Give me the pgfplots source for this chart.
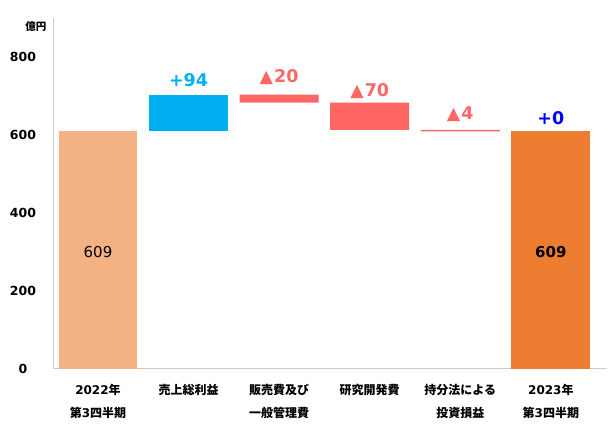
\documentclass[border=0pt]{standalone}
\usepackage{fontspec}
\setmainfont{DejaVu Sans}
\newfontfamily\cjk{Noto Sans CJK JP}
\usepackage{pgfplots}
\pgfplotsset{compat=1.18}
\definecolor{lightor}{HTML}{F4B183}
\definecolor{skyb}{HTML}{00B0F0}
\definecolor{redd}{HTML}{FF6666}
\definecolor{darkor}{HTML}{ED7D31}
\definecolor{zeroblue}{HTML}{0000FF}
\definecolor{axisgray}{HTML}{CCCCCC}
\begin{document}
\begin{tikzpicture}
\path[use as bounding box] (-53.7pt,-59.5pt) rectangle (556.3pt,368.5pt);
\begin{axis}[
  at={(0pt,0pt)}, anchor=south west,
  scale only axis, width=553.3pt, height=350.5pt,
  xmin=-0.489, xmax=5.62, ymin=0, ymax=900,
  axis x line=bottom, axis y line=left,
  axis line style={draw=axisgray, line width=0.9pt, -},
  ytick={0,200,400,600,800},
  xtick={0,1,2,3,4,5},
  xticklabels={
    {2022{\cjk 年}\\{\cjk 第}3{\cjk 四半期}},
    {{\cjk 売上総利益}},
    {{\cjk 販売費及び}\\{\cjk 一般管理費}},
    {{\cjk 研究開発費}},
    {{\cjk 持分法による}\\{\cjk 投資損益}},
    {2023{\cjk 年}\\{\cjk 第}3{\cjk 四半期}}},
  major tick length=0pt,
  tick style={draw=none},
  /pgf/number format/assume math mode=true,
  yticklabel style={font=\fontsize{12.5}{15}\selectfont\bfseries, anchor=center, xshift=-30.7pt},
  xticklabel style={font=\fontsize{12}{23}\selectfont\bfseries, align=center, anchor=north, yshift=-12pt},
  ybar stacked, bar width=0.872,
  clip=false,
]
\addplot[draw=none, fill=none] coordinates {(0,0)(1,609)(2,683)(3,613)(4,609)(5,0)};
\addplot[draw=none, fill=lightor] coordinates {(0,609)(1,0)(2,0)(3,0)(4,0)(5,0)};
\addplot[draw=none, fill=skyb] coordinates {(0,0)(1,94)(2,0)(3,0)(4,0)(5,0)};
\addplot[draw=none, fill=redd] coordinates {(0,0)(1,0)(2,20)(3,70)(4,4)(5,0)};
\addplot[draw=none, fill=darkor] coordinates {(0,0)(1,0)(2,0)(3,0)(4,0)(5,609)};
\coordinate (L1) at (axis cs:1,739.7);
\coordinate (L2) at (axis cs:2,748);
\coordinate (L3) at (axis cs:3,711.5);
\coordinate (L4) at (axis cs:4,652.6);
\coordinate (L5) at (axis cs:5,643.6);
\coordinate (V0) at (axis cs:0,300);
\coordinate (V5) at (axis cs:5,300);
\end{axis}
\node[font=\fontsize{17.5}{18}\selectfont\bfseries, text=skyb] at (L1) {+94};
\node[font=\fontsize{17.5}{18}\selectfont\bfseries, text=redd] at (L2) {▲\kern1pt 20};
\node[font=\fontsize{17.5}{18}\selectfont\bfseries, text=redd] at (L3) {▲\kern1pt 70};
\node[font=\fontsize{17.5}{18}\selectfont\bfseries, text=redd] at (L4) {▲\kern1pt 4};
\node[font=\fontsize{17.5}{18}\selectfont\bfseries, text=zeroblue] at (L5) {+0};
\node[font=\fontsize{15}{16}\selectfont] at (V0) {609};
\node[font=\fontsize{15}{16}\selectfont\bfseries] at (V5) {609};
\node[font=\fontsize{10.5}{11}\selectfont\bfseries\cjk] at (-17.7pt,341.5pt) {億円};
\end{tikzpicture}
\end{document}
